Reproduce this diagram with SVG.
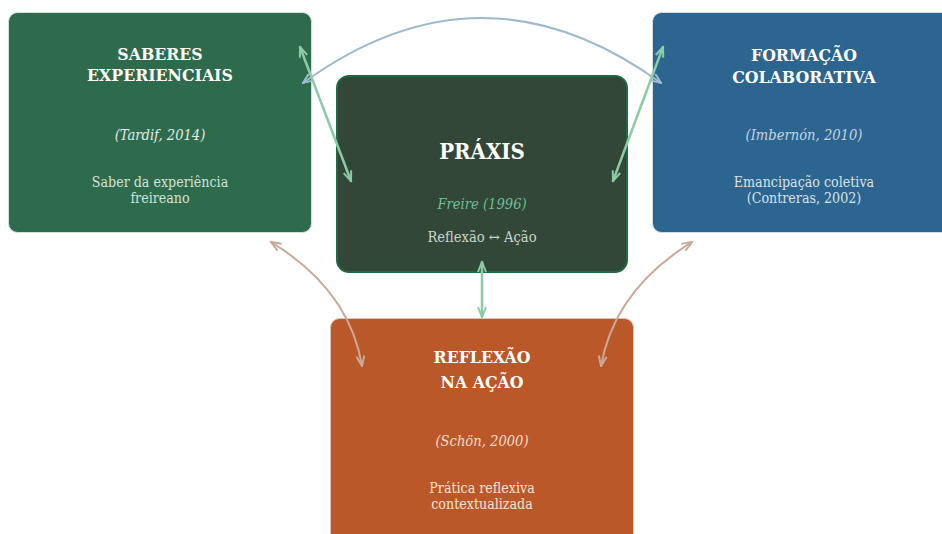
<svg xmlns="http://www.w3.org/2000/svg" width="942" height="534" viewBox="0 0 942 534">
<style>
text{font-family:"DejaVu Serif Condensed","DejaVu Serif","Liberation Serif",serif;font-stretch:condensed;text-anchor:middle}
.t{font-weight:bold;fill:#ffffff;font-size:17.5px}
.c{font-style:italic;font-size:14.6px}
.b{font-size:14.6px}
.s{font-size:14.1px}
</style>
<defs>
<marker id="ag" viewBox="0 0 12 10" refX="11" refY="5" markerWidth="12" markerHeight="10" markerUnits="userSpaceOnUse" orient="auto-start-reverse"><path d="M1,1 L11,5 L1,9" fill="none" stroke="#8dcaa6" stroke-width="2"/></marker>
<marker id="ab" viewBox="0 0 12 10" refX="11" refY="5" markerWidth="12" markerHeight="10" markerUnits="userSpaceOnUse" orient="auto-start-reverse"><path d="M1,1 L11,5 L1,9" fill="none" stroke="#9fb9cd" stroke-width="2"/></marker>
<marker id="ar" viewBox="0 0 12 10" refX="11" refY="5" markerWidth="12" markerHeight="10" markerUnits="userSpaceOnUse" orient="auto-start-reverse"><path d="M1,1 L11,5 L1,9" fill="none" stroke="#cba898" stroke-width="2"/></marker>
</defs>
<rect width="942" height="534" fill="#ffffff"/>
<g id="saberes">
<rect x="8.5" y="12.5" width="303" height="220" rx="9" fill="#2e6b4d" stroke="#d6dfda" stroke-width="1"/>
<text class="t" x="160" y="60">SABERES</text>
<text class="t" x="160" y="81">EXPERIENCIAIS</text>
<text class="c" x="160" y="140" fill="#e2ebe6">(Tardif, 2014)</text>
<text class="s" x="160" y="187" fill="#d2e2d8">Saber da experiência</text>
<text class="s" x="160" y="203" fill="#d2e2d8">freireano</text>
</g>
<g id="formacao">
<rect x="652.5" y="12.5" width="300" height="220" rx="9" fill="#2c6590" stroke="#d4dde4" stroke-width="1"/>
<text class="t" x="804" y="61">FORMAÇÃO</text>
<text class="t" x="804" y="83">COLABORATIVA</text>
<text class="c" x="804" y="140" fill="#c4d4e2">(Imbernón, 2010)</text>
<text class="s" x="804" y="187" fill="#d8e2ea">Emancipação coletiva</text>
<text class="s" x="804" y="203" fill="#d8e2ea">(Contreras, 2002)</text>
</g>
<g id="praxis">
<rect x="337" y="76" width="290" height="196" rx="12" fill="#324737" stroke="#1e6b43" stroke-width="2"/>
<text class="t" x="482" y="159" style="font-size:22px">PRÁXIS</text>
<text class="c" x="482" y="209" fill="#6fbf94">Freire (1996)</text>
<text class="b" x="482" y="242" fill="#c8d6cc">Reflexão ↔ Ação</text>
</g>
<g id="reflexao">
<rect x="330.5" y="318.5" width="303" height="230" rx="9" fill="#bb582a" stroke="#e2c2b2" stroke-width="1"/>
<text class="t" x="482" y="363">REFLEXÃO</text>
<text class="t" x="482" y="388">NA AÇÃO</text>
<text class="c" x="482" y="446" fill="#f2dccd">(Schön, 2000)</text>
<text class="s" x="482" y="493" fill="#f6e2d4">Prática reflexiva</text>
<text class="s" x="482" y="509" fill="#f6e2d4">contextualizada</text>
</g>
<g id="connectors" fill="none" stroke-linecap="round">
<path d="M303,83 Q482,-47 661,83" stroke="#9fb9cd" stroke-width="2" marker-start="url(#ab)" marker-end="url(#ab)"/>
<path d="M300,47 L351,181" stroke="#8dcaa6" stroke-width="2.5" marker-start="url(#ag)" marker-end="url(#ag)"/>
<path d="M663,47 L613,181" stroke="#8dcaa6" stroke-width="2.5" marker-start="url(#ag)" marker-end="url(#ag)"/>
<path d="M482,262 L482,317" stroke="#8dcaa6" stroke-width="2.5" marker-start="url(#ag)" marker-end="url(#ag)"/>
<path d="M271,242 Q349.5,290 362,366" stroke="#cba898" stroke-width="2" marker-start="url(#ar)" marker-end="url(#ar)"/>
<path d="M692,242 Q614.5,290 601,366" stroke="#cba898" stroke-width="2" marker-start="url(#ar)" marker-end="url(#ar)"/>
</g>
</svg>
